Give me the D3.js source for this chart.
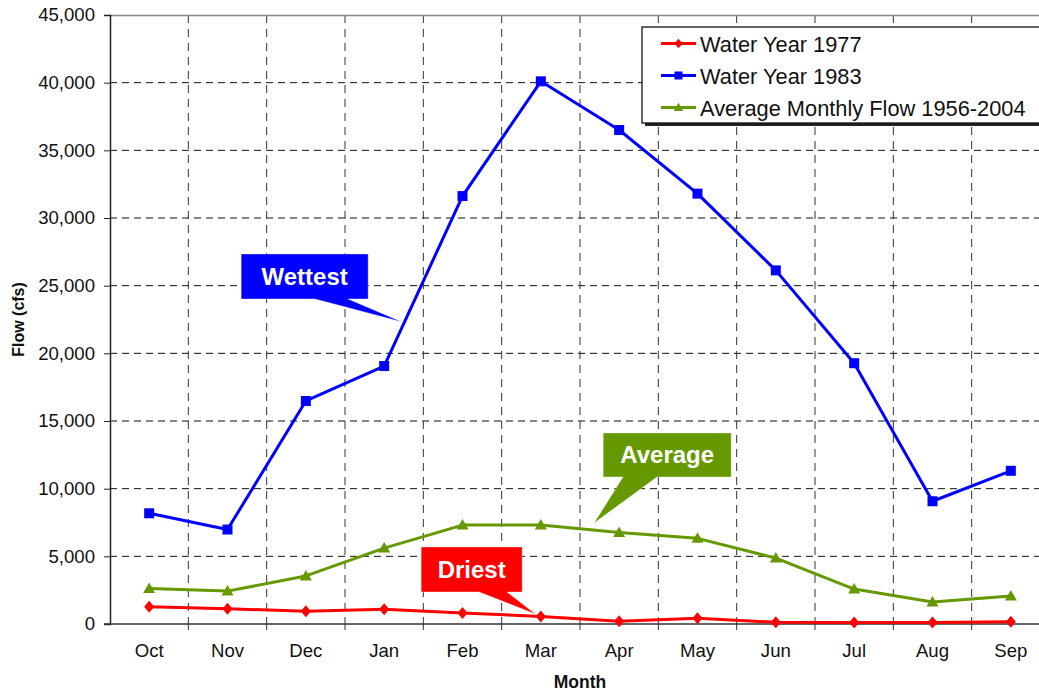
<!DOCTYPE html>
<html>
<head>
<meta charset="utf-8">
<script src="https://cdn.jsdelivr.net/npm/d3@7"></script>
<style>
  html, body { margin: 0; padding: 0; background: #fff; }
  svg { display: block; font-family: "Liberation Sans", Arial, sans-serif; }
</style>
</head>
<body>
<svg id="chart" width="1039" height="692"></svg>
<script>
// Monthly flow by water year (Oct–Sep), in cfs
const months = ["Oct", "Nov", "Dec", "Jan", "Feb", "Mar", "Apr", "May", "Jun", "Jul", "Aug", "Sep"];
const flow1977 = [1280, 1130, 940, 1085, 820, 560, 210, 430, 125, 120, 120, 160];
const flow1983 = [8180, 6980, 16480, 19060, 31620, 40100, 36500, 31800, 26130, 19270, 9070, 11320];
const flowAverage = [2630, 2430, 3550, 5610, 7310, 7320, 6760, 6330, 4870, 2580, 1620, 2070];
const yTicks = [0, 5000, 10000, 15000, 20000, 25000, 30000, 35000, 40000, 45000];

const seriesNames = ["Water Year 1977", "Water Year 1983", "Average Monthly Flow 1956-2004"];
const seriesColors = ["#ff0000", "#0000ff", "#669900"];
const seriesMarkers = ["diamond", "square", "triangle"];

// Callouts: box centre and pointer tip in (month index, flow) units
const callouts = [
  { text: "Wettest", color: "#0000ff", cx: 1.985, cy: 25680, w: 127, h: 45, tipX: 3.23, tipY: 22320, base: [315, 348] },
  { text: "Average", color: "#669900", cx: 6.613, cy: 12490, w: 128, h: 44, tipX: 5.68, tipY: 7460, base: [623, 657] },
  { text: "Driest", color: "#ff0000", cx: 4.117, cy: 4030, w: 101, h: 45, tipX: 4.93, tipY: 740, base: [479, 507] }
];

const svg = d3.select("#chart");
const plotLeft = 110, plotRight = 1050, plotTop = 15, plotBottom = 624;

const x = d3.scaleBand().domain(months).range([plotLeft, plotRight]).padding(0);
const xc = m => x(m) + x.bandwidth() / 2;
const xi = d3.scaleLinear().domain([-0.5, months.length - 0.5]).range([plotLeft, plotRight]);
const y = d3.scaleLinear().domain([0, 45000]).range([plotBottom, plotTop]);

// Horizontal grid
svg.append("g")
  .selectAll("line")
  .data(yTicks.filter(v => v > 0 && v < 45000))
  .join("line")
  .attr("x1", plotLeft).attr("x2", plotRight)
  .attr("y1", d => y(d)).attr("y2", d => y(d))
  .attr("stroke", "#111").attr("stroke-width", 1)
  .attr("stroke-dasharray", "7,5");

// Vertical grid at month boundaries
svg.append("g")
  .selectAll("line")
  .data(months.slice(1))
  .join("line")
  .attr("x1", d => x(d)).attr("x2", d => x(d))
  .attr("y1", plotTop).attr("y2", plotBottom)
  .attr("stroke", "#333").attr("stroke-width", 1)
  .attr("stroke-dasharray", "8,6");

// Plot frame top edge
svg.append("line")
  .attr("x1", plotLeft).attr("x2", plotRight).attr("y1", plotTop + 0.5).attr("y2", plotTop + 0.5)
  .attr("stroke", "#888").attr("stroke-width", 1.5);

// Y axis
const yAxis = svg.append("g")
  .attr("transform", `translate(${plotLeft},0)`)
  .call(d3.axisLeft(y).tickValues(yTicks).tickSize(6).tickPadding(9).tickFormat(d3.format(",")));
yAxis.select(".domain").attr("stroke", "#222").attr("stroke-width", 1.5);
yAxis.selectAll(".tick line").attr("stroke", "#222");
yAxis.selectAll("text").attr("font-size", 18.6).attr("fill", "#111")
  .attr("font-family", "'Liberation Sans', Arial, sans-serif");

// X axis: labels centred on months, ticks at boundaries
const xAxis = svg.append("g")
  .attr("transform", `translate(0,${plotBottom})`)
  .call(d3.axisBottom(x).tickSize(0).tickPadding(20));
xAxis.select(".domain").remove();
xAxis.selectAll("text").attr("font-size", 18.6).attr("fill", "#111")
  .attr("font-family", "'Liberation Sans', Arial, sans-serif");
svg.append("line")
  .attr("x1", plotLeft - 6).attr("x2", plotRight).attr("y1", plotBottom).attr("y2", plotBottom)
  .attr("stroke", "#333").attr("stroke-width", 1.5);
svg.append("g")
  .selectAll("line")
  .data(months.slice(1))
  .join("line")
  .attr("x1", d => x(d)).attr("x2", d => x(d))
  .attr("y1", plotBottom).attr("y2", plotBottom + 6)
  .attr("stroke", "#333").attr("stroke-width", 1);

// Axis titles
svg.append("text")
  .attr("transform", `translate(24,${(plotTop + plotBottom) / 2}) rotate(-90)`)
  .attr("text-anchor", "middle")
  .attr("font-size", 16).attr("font-weight", "bold").attr("fill", "#111")
  .text("Flow (cfs)");
svg.append("text")
  .attr("x", 580).attr("y", 688)
  .attr("text-anchor", "middle")
  .attr("font-size", 17.5).attr("font-weight", "bold").attr("fill", "#111")
  .text("Month");

// Marker shapes
function markerPath(kind) {
  if (kind === "diamond") return "M0,-6L5,0L0,6L-5,0Z";
  if (kind === "square") return "M-5,-5H5V5H-5Z";
  return "M0,-6L6,4.5L-6,4.5Z";
}

// Series
const allSeries = [flow1977, flow1983, flowAverage];
const line = d3.line().x((d, i) => xc(months[i])).y(d => y(d));
// draw average and wet year first, dry year on top
[2, 1, 0].forEach(s => {
  const g = svg.append("g");
  g.append("path")
    .datum(allSeries[s])
    .attr("d", line)
    .attr("fill", "none")
    .attr("stroke", seriesColors[s])
    .attr("stroke-width", 3)
    .attr("stroke-linejoin", "round");
  g.selectAll("path.m")
    .data(allSeries[s])
    .join("path")
    .attr("class", "m")
    .attr("d", markerPath(seriesMarkers[s]))
    .attr("transform", (d, i) => `translate(${xc(months[i])},${y(d)})`)
    .attr("fill", seriesColors[s]);
});

// Callouts
callouts.forEach(c => {
  const cx = xi(c.cx), cy = y(c.cy);
  const x0 = cx - c.w / 2, x1 = cx + c.w / 2, y0 = cy - c.h / 2, y1 = cy + c.h / 2;
  const tx = xi(c.tipX), ty = y(c.tipY);
  const p = d3.path();
  p.moveTo(x0, y0);
  p.lineTo(x1, y0);
  p.lineTo(x1, y1);
  p.lineTo(c.base[1], y1);
  p.lineTo(tx, ty);
  p.lineTo(c.base[0], y1);
  p.lineTo(x0, y1);
  p.closePath();
  svg.append("path").attr("d", p.toString()).attr("fill", c.color)
    .attr("stroke", "#ffffff").attr("stroke-opacity", 0.35).attr("stroke-width", 1);
  svg.append("text")
    .attr("x", cx).attr("y", cy + 8.5)
    .attr("text-anchor", "middle")
    .attr("font-size", 24).attr("font-weight", "bold").attr("fill", "#fff")
    .text(c.text);
});

// Legend
const lg = svg.append("g");
const lx = 642, ly = 27, lw = 420, lh = 96;
lg.append("rect").attr("x", lx + 3).attr("y", ly + 3).attr("width", lw).attr("height", lh).attr("fill", "#222");
lg.append("rect").attr("x", lx).attr("y", ly).attr("width", lw).attr("height", lh)
  .attr("fill", "#fff").attr("stroke", "#111").attr("stroke-width", 1.3);
const rowY = [43.5, 75.5, 107.5];
seriesNames.forEach((name, s) => {
  lg.append("line").attr("x1", 661).attr("x2", 696).attr("y1", rowY[s]).attr("y2", rowY[s])
    .attr("stroke", seriesColors[s]).attr("stroke-width", 3);
  lg.append("path").attr("d", markerPath(seriesMarkers[s]))
    .attr("transform", `translate(678.5,${rowY[s]}) scale(0.8)`)
    .attr("fill", seriesColors[s]);
  lg.append("text").attr("x", 700).attr("y", rowY[s] + 8)
    .attr("font-size", 21.8).attr("fill", "#111")
    .text(name);
});
</script>
</body>
</html>
